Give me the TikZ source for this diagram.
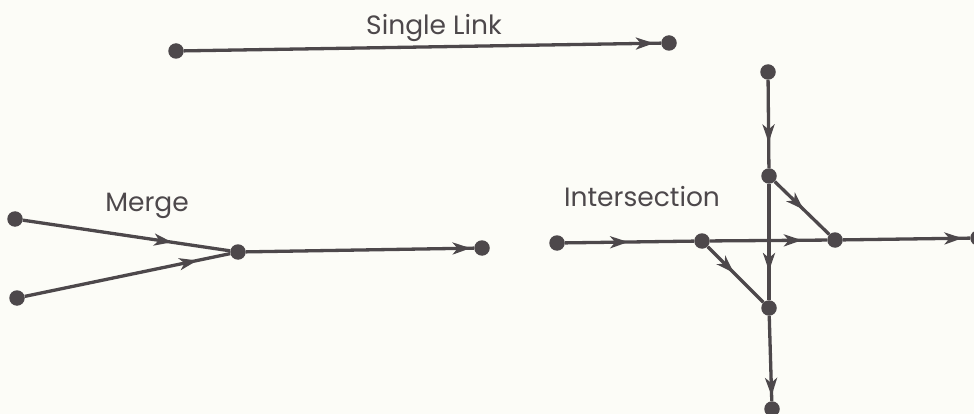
\documentclass[tikz,border=0pt]{standalone}
\usepackage{fontspec}
\setmainfont{Poppins}
\usetikzlibrary{arrows.meta,decorations.markings}
\definecolor{ink}{HTML}{4D484B}
\definecolor{paper}{HTML}{FCFCF7}
\tikzset{
  dot/.style={circle,fill=ink,inner sep=0pt,minimum size=15.5pt},
  link/.style={draw=ink,line width=3.3pt},
  arr/.style={link,postaction={decorate},decoration={markings,
    mark=at position #1 with {\arrow[ink]{Stealth[length=18pt,width=12pt,inset=5pt]}}}},
  lbl/.style={text=ink,font=\fontsize{26.5}{28}\selectfont,inner sep=0pt}
}
\begin{document}
\begin{tikzpicture}[x=1pt,y=-1pt]
\fill[paper] (0,0) rectangle (974,414);
\useasboundingbox (0,0) rectangle (974,414);
% Single link
\node[dot] (a) at (176,51) {};
\node[dot] (b) at (669,43) {};
\draw[arr=0.985] (a) -- (b);
\node[lbl] (tsl) at (434,28) {Single Link};
% Merge
\node[dot] (m1) at (15,219) {};
\node[dot] (m2) at (17,298) {};
\node[dot] (m3) at (238,252) {};
\node[dot] (m4) at (482,248) {};
\draw[arr=0.72] (m1) -- (m3);
\draw[arr=0.84] (m2) -- (m3);
\draw[arr=0.985] (m3) -- (m4);
\node[lbl] (tmg) at (147,206) {Merge};
% Intersection
\node[dot] (iin) at (557,243) {};
\node[dot] (i1) at (702,241) {};
\node[dot] (i2) at (835,240) {};
\node[dot] (iout) at (978,238) {};
\node[dot] (vt) at (768,72) {};
\node[dot] (v1) at (769,176) {};
\node[dot] (v2) at (769,308) {};
\node[dot] (vb) at (772,409) {};
\draw[arr=0.49] (iin) -- (i1);
\draw[arr=0.785] (i1) -- (i2);
\draw[arr=0.94] (i2) -- (iout);
\draw[arr=0.71] (vt) -- (v1);
\draw[arr=0.75] (v1) -- (v2);
\draw[arr=0.94] (v2) -- (vb);
\draw[arr=0.53] (v1) -- (i2);
\draw[arr=0.47] (i1) -- (v2);
\node[lbl] (tin) at (642,197) {Intersection};
\end{tikzpicture}
\end{document}
